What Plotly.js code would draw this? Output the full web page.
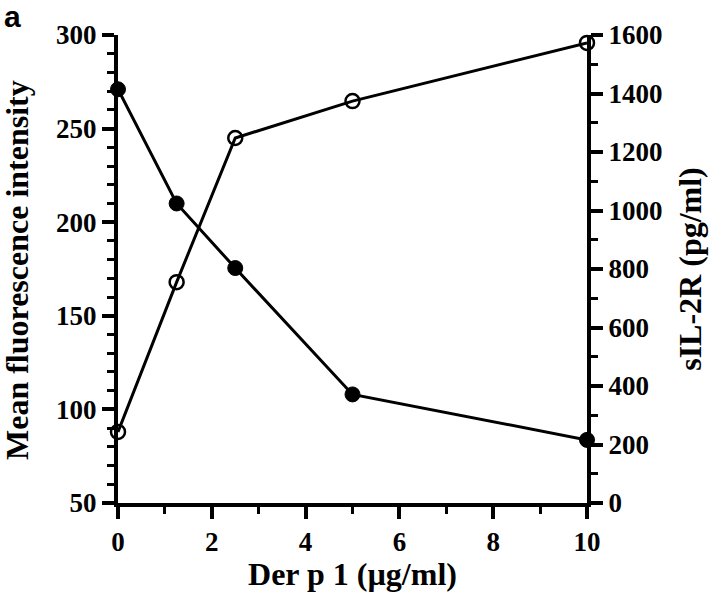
<!DOCTYPE html>
<html><head><meta charset="utf-8">
<script src="https://cdn.plot.ly/plotly-3.0.1.min.js"></script>
<style>html,body{margin:0;padding:0;background:#fff}#chart{width:720px;height:592px}</style>
</head><body><div id="chart"></div>
<script>
const derP1 = [0, 1.25, 2.5, 5, 10];
const mfi = [271, 210, 175.5, 108, 83.7];
const sil2r = [243, 755, 1248, 1374, 1573];

const serif = 'Liberation Serif';
const tickFont = {family: serif, size: 27, color: '#000', weight: 'bold'};
const titleFont = {family: serif, size: 32, color: '#000', weight: 'bold'};

const traces = [
  {x: derP1, y: mfi, type: 'scatter', mode: 'lines+markers', yaxis: 'y', cliponaxis: false,
   line: {color: '#000', width: 3},
   marker: {symbol: 'circle', size: 15, color: '#000', line: {color: '#000', width: 1}}},
  {x: derP1, y: sil2r, type: 'scatter', mode: 'lines+markers', yaxis: 'y2', cliponaxis: false,
   line: {color: '#000', width: 3},
   marker: {symbol: 'circle-open', size: 14, color: '#000', line: {color: '#000', width: 2.5}}}
];

const layout = {
  width: 720, height: 592,
  margin: {l: 118, r: 133, t: 35, b: 89},
  paper_bgcolor: '#fff', plot_bgcolor: '#fff',
  showlegend: false,
  xaxis: {range: [0, 10], dtick: 2, tick0: 0, showgrid: false, zeroline: false,
    showline: true, linecolor: '#000', linewidth: 4,
    ticks: 'outside', ticklen: 12, tickwidth: 4, tickcolor: '#000',
    minor: {dtick: 1, ticks: 'outside', ticklen: 7, tickwidth: 3, tickcolor: '#000', showgrid: false},
    tickfont: tickFont,
    title: {text: 'Der p 1 (µg/ml)', font: titleFont, standoff: 3}},
  yaxis: {range: [50, 300], dtick: 50, showgrid: false, zeroline: false,
    showline: true, linecolor: '#000', linewidth: 4,
    ticks: 'outside', ticklen: 12, tickwidth: 4, tickcolor: '#000',
    minor: {dtick: 10, ticks: 'outside', ticklen: 7, tickwidth: 3, tickcolor: '#000', showgrid: false},
    tickfont: tickFont},
  yaxis2: {range: [0, 1600], dtick: 200, overlaying: 'y', side: 'right', showgrid: false, zeroline: false,
    showline: true, linecolor: '#000', linewidth: 4,
    ticks: 'outside', ticklen: 12, tickwidth: 4, tickcolor: '#000',
    minor: {dtick: 100, ticks: 'outside', ticklen: 7, tickwidth: 3, tickcolor: '#000', showgrid: false},
    tickfont: tickFont,
    title: {text: 'sIL-2R (pg/ml)', font: titleFont, standoff: 18}},
  annotations: [
    {text: 'a', xref: 'paper', yref: 'paper', x: -116/469, y: 1 + 37/468, xanchor: 'left', yanchor: 'top',
     showarrow: false, font: {family: 'Liberation Sans', size: 30, color: '#000', weight: 'bold'}},
    {text: 'Mean fluorescence intensity', xref: 'paper', yref: 'paper', x: (17 - 118)/469, y: (503 - 270)/468,
     xanchor: 'center', yanchor: 'middle', textangle: -90, showarrow: false, font: titleFont}
  ]
};

Plotly.newPlot('chart', traces, layout, {displayModeBar: false, staticPlot: true});
</script></body></html>
